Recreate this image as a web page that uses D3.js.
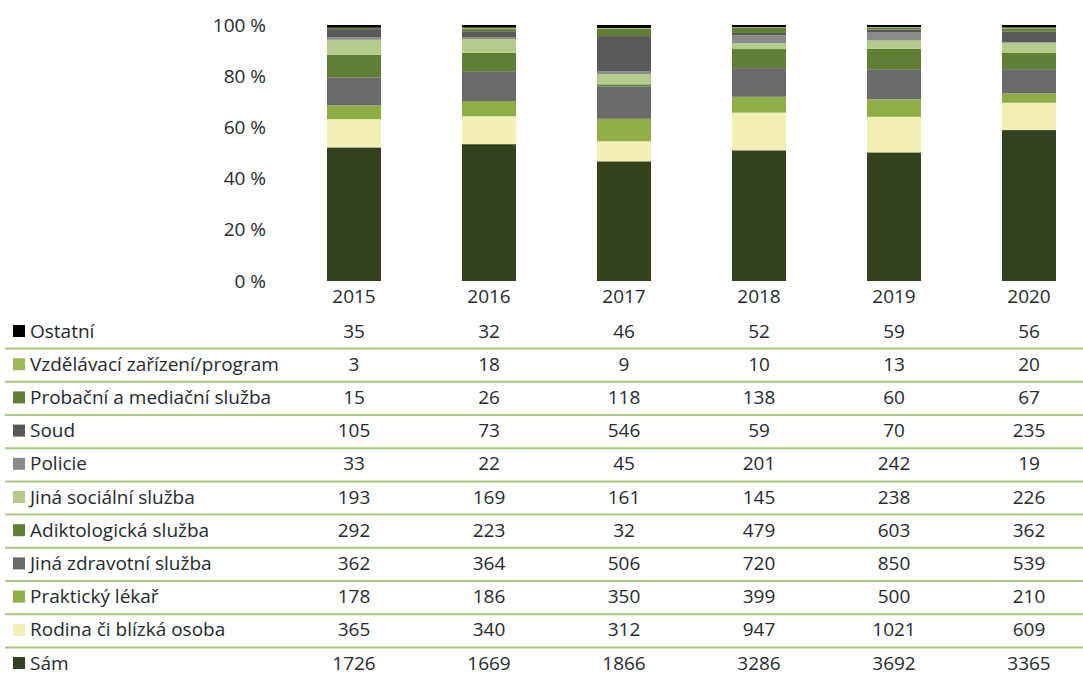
<!DOCTYPE html>
<html lang="cs">
<head>
<meta charset="utf-8">
<script src="https://cdn.jsdelivr.net/npm/d3@7"></script>
<style>
    html, body { margin: 0; padding: 0; background: #fff; }
    svg { display: block; font-family: "Open Sans", "Noto Sans", sans-serif; }
</style>
</head>
<body>
<svg id="chart" width="1083" height="675"></svg>
<script>
// rows top to bottom as in the table; stack goes bottom (Sám) to top (Ostatní)
const years = ['2015', '2016', '2017', '2018', '2019', '2020'];
const categories = ['Ostatní', 'Vzdělávací zařízení/program', 'Probační a mediační služba', 'Soud', 'Policie',
    'Jiná sociální služba', 'Adiktologická služba', 'Jiná zdravotní služba', 'Praktický lékař', 'Rodina či blízká osoba', 'Sám'];
const colors = ['#000000', '#9bbb59', '#5f7f35', '#595959', '#8a8a8a',
    '#b5cb8c', '#5f7f35', '#6a6a6a', '#8fae45', '#f1efb6', '#33411e'];
const values = [
    [35, 32, 46, 52, 59, 56],
    [3, 18, 9, 10, 13, 20],
    [15, 26, 118, 138, 60, 67],
    [105, 73, 546, 59, 70, 235],
    [33, 22, 45, 201, 242, 19],
    [193, 169, 161, 145, 238, 226],
    [292, 223, 32, 479, 603, 362],
    [362, 364, 506, 720, 850, 539],
    [178, 186, 350, 399, 500, 210],
    [365, 340, 312, 947, 1021, 609],
    [1726, 1669, 1866, 3286, 3692, 3365]
];
const yTicks = [0, 20, 40, 60, 80, 100];

const svg = d3.select('#chart');
const textColor = '#262a30';
const fontSize = '19px';

const x = d3.scaleBand().domain(years).range([286.5, 1096.5]).paddingInner(0.6).paddingOuter(0.3);
const y = d3.scaleLinear().domain([0, 100]).range([281, 25]);

// build stack table: one record per year, share in %
const rows = years.map((year, j) => {
    const total = d3.sum(values, v => v[j]);
    const rec = { year };
    categories.forEach((c, i) => { rec[c] = values[i][j] / total * 100; });
    return rec;
});
const stackKeys = categories.slice().reverse();
const series = d3.stack().keys(stackKeys)(rows);
const color = d3.scaleOrdinal().domain(categories).range(colors);

svg.append('g').selectAll('g').data(series).join('g')
    .attr('fill', d => color(d.key))
    .selectAll('rect').data(d => d).join('rect')
    .attr('x', d => x(d.data.year))
    .attr('width', x.bandwidth())
    .attr('y', d => y(d[1]))
    .attr('height', d => y(d[0]) - y(d[1]));

// y axis, labels only
const yAxis = svg.append('g').attr('transform', 'translate(266,0)')
    .call(d3.axisLeft(y).tickValues(yTicks).tickSize(0).tickPadding(0).tickFormat(d => `${d} %`));
yAxis.select('.domain').remove();
yAxis.selectAll('text').attr('fill', textColor).style('font-size', fontSize).style('font-family', '"Open Sans", "Noto Sans", sans-serif');

// x axis, year labels
const xAxis = svg.append('g').attr('transform', 'translate(0,286)')
    .call(d3.axisBottom(x).tickSize(0).tickPadding(0));
xAxis.select('.domain').remove();
xAxis.selectAll('text').attr('fill', textColor).attr('dy', '0.9em').style('font-size', fontSize).style('font-family', '"Open Sans", "Noto Sans", sans-serif');

// data table below
const row = d3.scalePoint().domain(categories).range([331, 663]);
const table = svg.append('g');

table.selectAll('line').data(categories.slice(0, -1)).join('line')
    .attr('x1', 5).attr('x2', 1083)
    .attr('y1', d => row(d) + row.step() / 2 + 1)
    .attr('y2', d => row(d) + row.step() / 2 + 1)
    .attr('stroke', '#a9c97c').attr('stroke-width', 2);

const tr = table.selectAll('g.row').data(categories).join('g').attr('class', 'row')
    .attr('transform', d => `translate(0,${row(d)})`);
tr.append('rect').attr('x', 13).attr('y', -6).attr('width', 12).attr('height', 12).attr('fill', d => color(d));
tr.append('text').attr('x', 30).attr('dy', '0.35em').attr('fill', textColor).style('font-size', fontSize).text(d => d);
tr.selectAll('text.val').data((d, i) => values[i].map((v, j) => ({ v, year: years[j] }))).join('text')
    .attr('class', 'val')
    .attr('x', d => x(d.year) + x.bandwidth() / 2)
    .attr('dy', '0.35em').attr('text-anchor', 'middle').attr('fill', textColor).style('font-size', fontSize)
    .text(d => d.v);
</script>
</body>
</html>
